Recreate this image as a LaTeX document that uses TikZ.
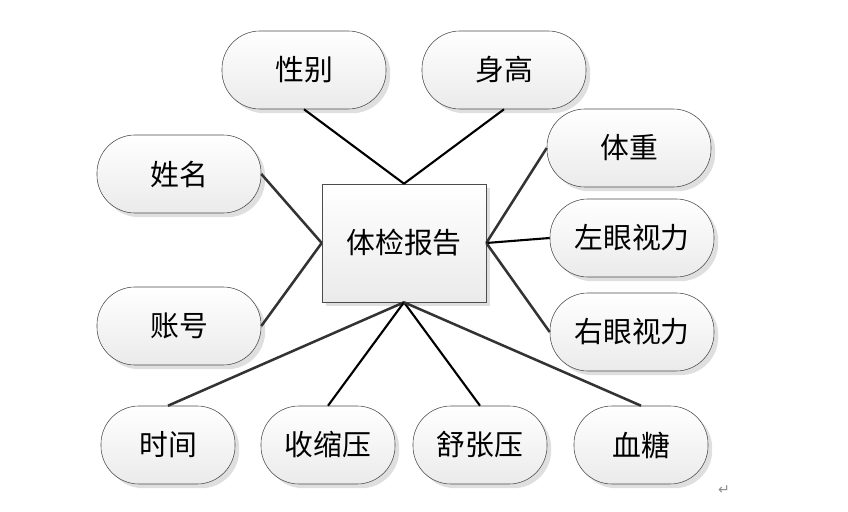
\documentclass[tikz,border=0pt]{standalone}
\usepackage{fontspec}
\newfontfamily\cjk{Noto Sans CJK SC}
\newfontfamily\symfont{DejaVu Sans}
\usetikzlibrary{shadows, positioning}

\begin{document}
\begin{tikzpicture}[x=0.025cm, y=-0.025cm,
        attr/.style={rectangle, draw=black!70, rounded corners=0.95cm, top color=white, bottom color=black!8,
            minimum width=4.1cm, minimum height=1.95cm, font=\cjk\fontsize{20.5}{24}\selectfont,
            drop shadow={opacity=0.25, shadow xshift=3pt, shadow yshift=-3pt}},
        small/.style={attr, minimum width=3.35cm},
        entity/.style={rectangle, draw=black!70, top color=white, bottom color=black!8,
            minimum width=4.1cm, minimum height=2.95cm, font=\cjk\fontsize{20.5}{24}\selectfont,
            drop shadow={opacity=0.25, shadow xshift=3pt, shadow yshift=-3pt}},
        line/.style={draw, line width=1.5pt},
        line2/.style={draw, line width=1.8pt, black!80}]

        \useasboundingbox (0,0) rectangle (848,512);

        \node [entity] (report) at (404,243) {体检报告};

        \node [attr] (sex) at (304,70) {性别};
        \node [attr] (height) at (504,70) {身高};
        \node [attr] (name) at (179,174) {姓名};
        \node [attr] (account) at (179,326) {账号};
        \node [attr] (weight) at (629,148) {体重};
        \node [attr] (leye) at (632,238) {左眼视力};
        \node [attr] (reye) at (632,332) {右眼视力};
        \node [small] (time) at (168,445) {时间};
        \node [small] (sys) at (328,445) {收缩压};
        \node [small] (dia) at (480,445) {舒张压};
        \node [small] (sugar) at (641,445) {血糖};

        \path [line] (sex.south) -- (report.north);
        \path [line] (height.south) -- (report.north);
        \path [line2] (name.east) -- (report.west);
        \path [line2] (account.east) -- (report.west);
        \path [line2] (weight.west) -- (report.east);
        \path [line] (leye.west) -- (report.east);
        \path [line2] (reye.west) -- (report.east);
        \path [line2] (time.north) -- (report.south);
        \path [line] (sys.north) -- (report.south);
        \path [line] (dia.north) -- (report.south);
        \path [line2] (sugar.north) -- (report.south);

        \node [text=black!45, font=\symfont] (mark) at (724,490) {↵};
    \end{tikzpicture}
\end{document}
